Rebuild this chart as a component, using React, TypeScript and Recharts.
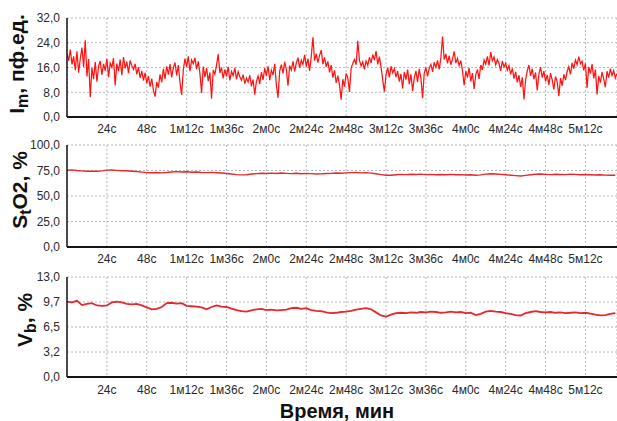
import React from 'react';
import { LineChart, Line, XAxis, YAxis, CartesianGrid } from 'recharts';

// Time axis (seconds) and its labels
const timeTicks = [24, 48, 72, 96, 120, 144, 168, 192, 216, 240, 264, 288, 312];
const timeTickLabels = [
  '24с', '48с', '1м12с', '1м36с', '2м0с', '2м24с', '2м48с',
  '3м12с', '3м36с', '4м0с', '4м24с', '4м48с', '5м12с',
];

// Im, perfusion units — one sample per second
const imValues = [
  20.5, 18.2, 21.8, 17.0, 19.6, 15.1, 21.2, 14.3, 18.9, 22.4,
  16.2, 24.8, 13.1, 18.7, 6.4, 15.9, 12.2, 17.8, 11.4, 16.5,
  18.1, 13.6, 17.2, 15.0, 18.8, 12.9, 17.4, 16.1, 19.0, 10.2,
  17.3, 14.8, 18.6, 13.5, 19.4, 15.7, 17.9, 14.2, 18.3, 16.6,
  15.4, 17.2, 13.8, 16.1, 12.6, 14.9, 11.8, 14.3, 10.9, 13.2,
  9.8, 12.4, 8.7, 6.6, 11.3, 9.5, 13.8, 11.2, 15.6, 12.3,
  16.4, 13.7, 17.1, 12.8, 15.9, 17.6, 13.4, 16.8, 11.2, 7.1,
  15.3, 18.9, 16.2, 19.6, 14.8, 18.4, 17.2, 19.1, 15.5, 18.0,
  14.1, 7.8, 16.3, 12.9, 15.8, 11.6, 14.4, 5.9, 15.2, 13.8,
  16.7, 20.3, 14.2, 16.0, 12.5, 15.4, 13.1, 16.2, 11.8, 14.7,
  13.4, 15.9, 12.2, 14.6, 13.0, 11.9, 13.7, 10.8, 12.6, 11.3,
  13.5, 9.9, 12.1, 7.2, 11.6, 13.3, 10.7, 14.5, 12.0, 15.8,
  13.2, 16.4, 11.9, 15.1, 13.6, 17.2, 10.4, 6.2, 14.8, 16.9,
  14.1, 17.8, 15.3, 10.1, 16.6, 15.2, 18.0, 14.7, 17.5, 19.2,
  15.9, 18.4, 17.0, 20.1, 16.3, 18.8, 14.9, 19.5, 25.8, 18.2,
  20.4, 17.6, 19.9, 21.6, 17.1, 19.3, 16.2, 18.0, 14.4, 16.8,
  12.7, 15.1, 11.0, 13.4, 10.3, 5.6, 12.2, 9.8, 14.1, 12.6,
  8.1, 15.7, 17.4, 18.6, 16.9, 24.6, 18.3, 16.5, 17.8, 15.4,
  18.1, 16.7, 19.3, 17.5, 20.2, 18.4, 21.3, 17.0, 19.5, 16.2,
  12.1, 8.2, 13.7, 15.9, 12.8, 16.4, 14.3, 15.6, 12.9, 14.8,
  11.4, 13.9, 9.2, 14.6, 12.1, 15.3, 10.6, 13.8, 8.4, 12.7,
  14.9, 11.3, 15.6, 12.4, 6.1, 14.2, 16.0, 13.1, 15.8, 17.0,
  14.6, 17.7, 16.1, 18.3, 15.4, 19.1, 26.0, 18.6, 20.4, 17.3,
  19.8, 16.9, 18.7, 21.2, 17.4, 19.0, 16.6, 18.2, 15.0, 10.3,
  14.8, 12.7, 15.9, 11.5, 14.2, 9.1, 13.6, 15.4, 12.3, 16.8,
  15.2, 18.4, 17.1, 19.6, 16.7, 21.0, 18.2, 19.4, 16.9, 18.6,
  17.3, 14.9, 18.1, 16.2, 17.4, 15.1, 16.6, 13.8, 15.7, 12.4,
  14.6, 11.2, 13.5, 9.7, 12.8, 5.7, 12.1, 14.9, 16.8, 13.3,
  15.6, 12.2, 14.4, 8.6, 13.9, 16.1, 12.7, 14.8, 11.5, 13.6,
  10.4, 14.2, 12.0, 8.9, 13.1, 11.4, 6.7, 12.6, 10.1, 13.8,
  11.9, 14.7, 16.3, 13.8, 17.5, 15.6, 18.4, 16.9, 19.5, 17.2,
  18.0, 15.1, 17.3, 9.4, 16.2, 14.0, 17.1, 12.5, 15.3, 7.3,
  13.2, 11.1, 14.5, 12.3, 9.6, 14.8, 12.7, 15.6, 13.4, 15.0,
  12.6, 14.1,
];

// StO2, % — one sample every 3 seconds
const sto2Values = [
  75.3, 75.6, 75.0, 74.6, 74.2, 74.4, 74.3, 74.6, 75.4, 75.5,
  75.1, 74.8, 74.7, 74.3, 74.0, 73.4, 72.9, 72.8, 73.1, 72.7,
  73.0, 73.5, 73.9, 73.6, 73.8, 73.3, 73.5, 73.0, 72.9, 73.2,
  72.8, 72.5, 72.0, 71.5, 71.0, 70.7, 70.9, 71.6, 71.9, 72.3,
  72.0, 72.4, 72.1, 72.5, 72.2, 71.9, 72.3, 71.8, 72.2, 71.9,
  71.5, 71.7, 72.0, 72.2, 72.5, 72.3, 72.7, 72.9, 73.1, 72.7,
  72.9, 72.4, 71.8, 71.0, 70.3, 70.4, 70.9, 71.2, 71.0, 71.3,
  71.1, 71.4, 71.0, 71.2, 70.9, 71.1, 70.8, 71.2, 70.9, 71.0,
  70.6, 70.8, 70.3, 70.7, 71.4, 71.8, 71.5, 71.2, 70.9, 70.4,
  70.0, 69.6, 70.2, 70.8, 71.3, 71.5, 71.2, 71.0, 71.3, 71.1,
  71.0, 71.4, 71.2, 70.9, 71.1, 70.8, 70.6, 70.9, 70.5, 70.3,
  70.4,
];

// Vb, % — one sample every 3 seconds
const vbValues = [
  9.8, 9.7, 9.9, 9.35, 9.5, 9.6, 9.3, 9.25, 9.3, 9.7,
  9.8, 9.7, 9.5, 9.45, 9.5, 9.3, 9.05, 8.8, 8.85, 9.1,
  9.6, 9.65, 9.55, 9.6, 9.25, 9.2, 9.15, 9.05, 8.8, 9.1,
  9.3, 9.15, 9.1, 8.9, 8.7, 8.55, 8.5, 8.65, 8.8, 8.85,
  8.7, 8.75, 8.65, 8.7, 8.75, 8.95, 9.0, 8.85, 8.95, 8.7,
  8.6, 8.55, 8.4, 8.3, 8.35, 8.45, 8.5, 8.6, 8.75, 8.85,
  8.95, 8.8, 8.4, 8.0, 7.85, 8.1, 8.3, 8.35, 8.3, 8.4,
  8.35, 8.45, 8.4, 8.5, 8.45, 8.35, 8.4, 8.5, 8.4, 8.45,
  8.3, 8.35, 8.05, 8.2, 8.5, 8.6, 8.5, 8.45, 8.3, 8.2,
  8.05, 8.0, 8.3, 8.45, 8.55, 8.45, 8.4, 8.45, 8.35, 8.4,
  8.3, 8.35, 8.4, 8.3, 8.35, 8.25, 8.1, 8.0, 8.05, 8.2,
  8.3,
];

const imTicks = [0, 8, 16, 24, 32];
const sto2Ticks = [0, 25, 50, 75, 100];
const vbTicks = [0, 3.25, 6.5, 9.75, 13];

const imData = imValues.map((v, i) => ({ t: i, v }));
const sto2Data = sto2Values.map((v, i) => ({ t: i * 3, v }));
const vbData = vbValues.map((v, i) => ({ t: i * 3, v }));

const W = 617;
const AXIS_LEFT = 67;

const fmtY = (v: number) =>
  (Math.floor(v * 10 + 1e-6) / 10).toFixed(1).replace('.', ',');
const fmtX = (v: number) => {
  const i = timeTicks.indexOf(v);
  return i >= 0 ? timeTickLabels[i] : '';
};

const tickStyle = { fontSize: 12, fill: '#2a2a2a', fontFamily: 'Arial, "Liberation Sans", sans-serif' };

type PanelProps = {
  top: number;
  height: number;
  plotTop: number;
  plotHeight: number;
  xTickMargin: number;
  data: { t: number; v: number }[];
  yMax: number;
  yTicks: number[];
  color: string;
  strokeWidth: number;
};

function Panel(p: PanelProps) {
  const xAxisHeight = p.height - p.plotTop - p.plotHeight;
  return (
    <div style={{ position: 'absolute', left: 0, top: p.top, width: W, height: p.height }}>
      <LineChart
        width={W}
        height={p.height}
        data={p.data}
        margin={{ top: p.plotTop, right: 0, bottom: 0, left: 0 }}
      >
        <CartesianGrid stroke="#b8b8b8" strokeDasharray="2 2" />
        <XAxis
          dataKey="t"
          type="number"
          domain={[0, 331]}
          ticks={timeTicks}
          interval={0}
          tickFormatter={fmtX}
          tickLine={false}
          tickSize={0}
          tickMargin={p.xTickMargin}
          height={xAxisHeight}
          axisLine={{ stroke: '#151515', strokeWidth: 2 }}
          tick={tickStyle}
          allowDataOverflow
        />
        <YAxis
          type="number"
          domain={[0, p.yMax]}
          ticks={p.yTicks}
          interval={0}
          tickFormatter={fmtY}
          tickLine={false}
          tickSize={0}
          tickMargin={7}
          width={AXIS_LEFT}
          axisLine={{ stroke: '#151515', strokeWidth: 1.5 }}
          tick={tickStyle}
        />
        <Line
          type="linear"
          dataKey="v"
          stroke={p.color}
          strokeWidth={p.strokeWidth}
          dot={false}
          isAnimationActive={false}
        />
      </LineChart>
    </div>
  );
}

const labelFont = { fontFamily: 'Arial, "Liberation Sans", sans-serif', fontWeight: 700, fill: '#111' };

export default function App() {
  return (
    <div style={{ position: 'absolute', left: 0, top: 0, width: W, height: 421, background: '#fff', overflow: 'hidden' }}>
      <Panel top={0} height={140} plotTop={18} plotHeight={99} xTickMargin={7}
        data={imData} yMax={32} yTicks={imTicks} color="#ff1414" strokeWidth={1.25} />
      <Panel top={135} height={130} plotTop={10} plotHeight={102} xTickMargin={7}
        data={sto2Data} yMax={100} yTicks={sto2Ticks} color="#e8262b" strokeWidth={1.4} />
      <Panel top={265} height={140} plotTop={12} plotHeight={100} xTickMargin={8}
        data={vbData} yMax={13} yTicks={vbTicks} color="#e8262b" strokeWidth={1.8} />
      <svg width={W} height={421} style={{ position: 'absolute', left: 0, top: 0, pointerEvents: 'none' }}>
        <text transform="translate(24,64) rotate(-90)" textAnchor="middle" fontSize={21} {...labelFont}>
          I<tspan fontSize={16} dy={4}>m</tspan><tspan dy={-4}>, пф.ед.</tspan>
        </text>
        <text transform="translate(27,190) rotate(-90)" textAnchor="middle" fontSize={21} {...labelFont}>
          S<tspan fontSize={16} dy={4}>t</tspan><tspan dy={-4}>O2, %</tspan>
        </text>
        <text transform="translate(32,320) rotate(-90)" textAnchor="middle" fontSize={21} {...labelFont}>
          V<tspan fontSize={16} dy={4}>b</tspan><tspan dy={-4}>, %</tspan>
        </text>
        <text x={337} y={418} textAnchor="middle" fontSize={20} {...labelFont}>
          Время, мин
        </text>
      </svg>
    </div>
  );
}
